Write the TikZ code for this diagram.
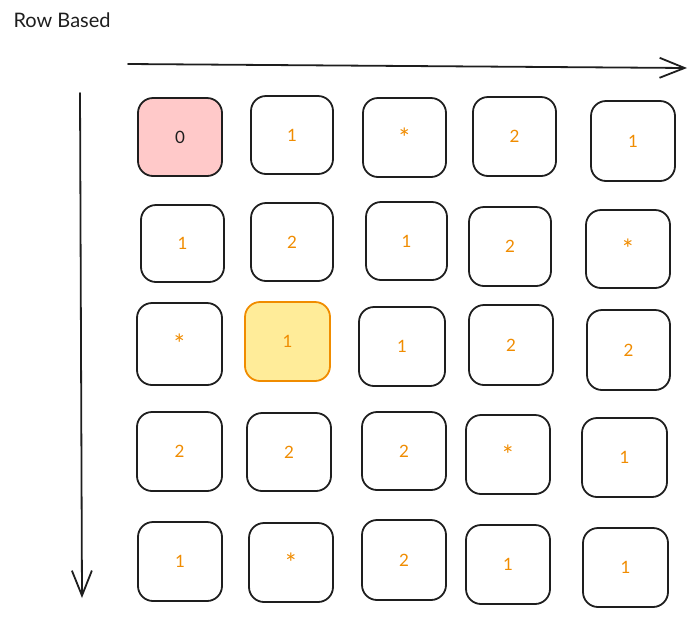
\documentclass[tikz,border=0pt]{standalone}
\usepackage{fontspec}
\setmainfont{Lato}
\usetikzlibrary{arrows.meta}
\definecolor{exorange}{HTML}{F08C00}
\definecolor{exred}{HTML}{FFC9C9}
\definecolor{exyellow}{HTML}{FFEC99}
\definecolor{exink}{HTML}{1E1E1E}
\tikzset{
  cell/.style={draw=exink, line width=1.8pt, rounded corners=15pt, fill=white,
    inner sep=0pt, text=exorange, font=\fontsize{17}{17}\selectfont},
  startcell/.style={cell, fill=exred, text=exink},
  curcell/.style={cell, fill=exyellow, draw=exorange},
  axis/.style={draw=exink, line width=1.8pt, line cap=round,
    -{Straight Barb[length=25pt,width=20pt,line width=1.8pt]}},
}
\newcommand{\st}{\raisebox{-2pt}{\fontsize{26}{26}\selectfont *}}
\newcommand{\cellat}[7]{%
  \node[#1, minimum width=#4pt-#2pt, minimum height=#6pt-#5pt] (#7) at ({(#2+#4)/2},{(#5+#6)/2}) {#3};}
\begin{document}
\begin{tikzpicture}[x=1pt,y=-1pt]
\useasboundingbox (0,0) rectangle (696,619);
\node[anchor=west, text=exink, font=\fontsize{20}{20}\selectfont] (title) at (10,20) {Row Based};
\coordinate (hs) at (128,64);
\coordinate (he) at (687,68);
\coordinate (vs) at (80,93);
\coordinate (ve) at (82,598);
\draw[axis] (hs) -- (he);
\draw[axis] (vs) -- (ve);
% row 1
\cellat{startcell}{138}{0}{222}{98}{176}{c11}
\cellat{cell}{251}{1}{333}{96}{174}{c12}
\cellat{cell}{363}{\st}{446}{98}{177}{c13}
\cellat{cell}{473}{2}{556}{97}{176}{c14}
\cellat{cell}{591}{1}{675}{101}{181}{c15}
% row 2
\cellat{cell}{141}{1}{224}{205}{282}{c21}
\cellat{cell}{251}{2}{333}{203}{281}{c22}
\cellat{cell}{366}{1}{447}{202}{280}{c23}
\cellat{cell}{469}{2}{551}{207}{286}{c24}
\cellat{cell}{586}{\st}{670}{210}{288}{c25}
% row 3
\cellat{cell}{137}{\st}{222}{303}{385}{c31}
\cellat{curcell}{245}{1}{330}{302}{381}{c32}
\cellat{cell}{359}{1}{445}{307}{386}{c33}
\cellat{cell}{469}{2}{553}{305}{385}{c34}
\cellat{cell}{587}{2}{670}{310}{390}{c35}
% row 4
\cellat{cell}{137}{2}{222}{412}{491}{c41}
\cellat{cell}{247}{2}{331}{413}{491}{c42}
\cellat{cell}{362}{2}{446}{412}{490}{c43}
\cellat{cell}{466}{\st}{550}{415}{494}{c44}
\cellat{cell}{582}{1}{667}{418}{497}{c45}
% row 5
\cellat{cell}{138}{1}{222}{522}{601}{c51}
\cellat{cell}{249}{\st}{333}{523}{602}{c52}
\cellat{cell}{362}{2}{446}{520}{600}{c53}
\cellat{cell}{466}{1}{550}{525}{604}{c54}
\cellat{cell}{583}{1}{668}{528}{607}{c55}
\end{tikzpicture}
\end{document}
